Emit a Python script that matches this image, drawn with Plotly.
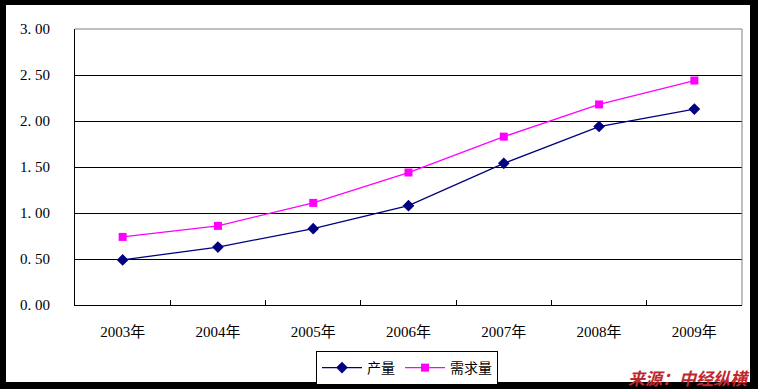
import plotly.graph_objects as go

years = ["2003年", "2004年", "2005年", "2006年", "2007年", "2008年", "2009年"]
output = [0.49, 0.63, 0.83, 1.08, 1.54, 1.94, 2.13]
demand = [0.74, 0.86, 1.11, 1.44, 1.83, 2.18, 2.44]
ytick_vals = [0, 0.5, 1.0, 1.5, 2.0, 2.5, 3.0]
ytick_text = ["0. 00", "0. 50", "1. 00", "1. 50", "2. 00", "2. 50", "3. 00"]

W, H = 758, 389
L, R, T, B = 75, 742, 29, 305
pw, ph = R - L, B - T

def px(x):
    return (x - L) / pw

def py(y):
    return (B - y) / ph

font_fam = "Liberation Serif, Noto Sans CJK SC, serif"

fig = go.Figure()
fig.add_trace(go.Scatter(x=years, y=output, name="产量", mode="lines+markers",
                         line=dict(color="#000080", width=1.3),
                         marker=dict(symbol="diamond", size=9, color="#000080")))
fig.add_trace(go.Scatter(x=years, y=demand, name="需求量", mode="lines+markers",
                         line=dict(color="#FF00FF", width=1.3),
                         marker=dict(symbol="square", size=8, color="#FF00FF")))

shapes = [
    dict(type="rect", xref="paper", yref="paper", x0=px(6), x1=px(750), y0=py(382), y1=py(5),
         fillcolor="white", line=dict(width=0), layer="below"),
    dict(type="line", xref="paper", yref="paper", x0=0, x1=1, y0=1, y1=1,
         line=dict(color="#808080", width=1)),
    dict(type="line", xref="paper", yref="paper", x0=1, x1=1, y0=0, y1=1,
         line=dict(color="#808080", width=1)),
]

fig.update_layout(
    width=W, height=H,
    margin=dict(l=L, r=W - R, t=T, b=H - B, autoexpand=False),
    paper_bgcolor="black",
    plot_bgcolor="rgba(0,0,0,0)",
    shapes=shapes,
    font=dict(family=font_fam, size=15, color="black"),
    showlegend=True,
    legend=dict(orientation="h", x=px(316), y=py(351), xanchor="left", yanchor="top",
                bordercolor="black", borderwidth=1, bgcolor="white",
                font=dict(size=14, family="Noto Sans CJK SC"), itemwidth=40,
                tracegroupgap=0),
    xaxis=dict(type="category", showline=True, linecolor="black", linewidth=1,
               ticks="inside", tickson="boundaries", ticklen=5, tickcolor="black",
               showgrid=False, tickfont=dict(size=15), ticklabelstandoff=13,
               range=[-0.5, 6.5], automargin=False),
    yaxis=dict(range=[0, 3.0], tickvals=ytick_vals, ticktext=ytick_text,
               showline=True, linecolor="black", linewidth=1,
               showgrid=True, gridcolor="black", gridwidth=1,
               zeroline=False, ticks="", tickfont=dict(size=15),
               ticklabelstandoff=21, automargin=False),
    annotations=[dict(text="<b><i>来源：中经纵横</i></b>", xref="paper", yref="paper",
                      x=px(752), y=py(377), xanchor="right", yanchor="middle",
                      showarrow=False,
                      font=dict(size=17, color="#C0282D", family="Noto Sans CJK SC"))],
)

fig.write_html("out.html", config={"displayModeBar": False},
               post_script="document.body.style.margin='0px';document.body.style.overflow='hidden';")
